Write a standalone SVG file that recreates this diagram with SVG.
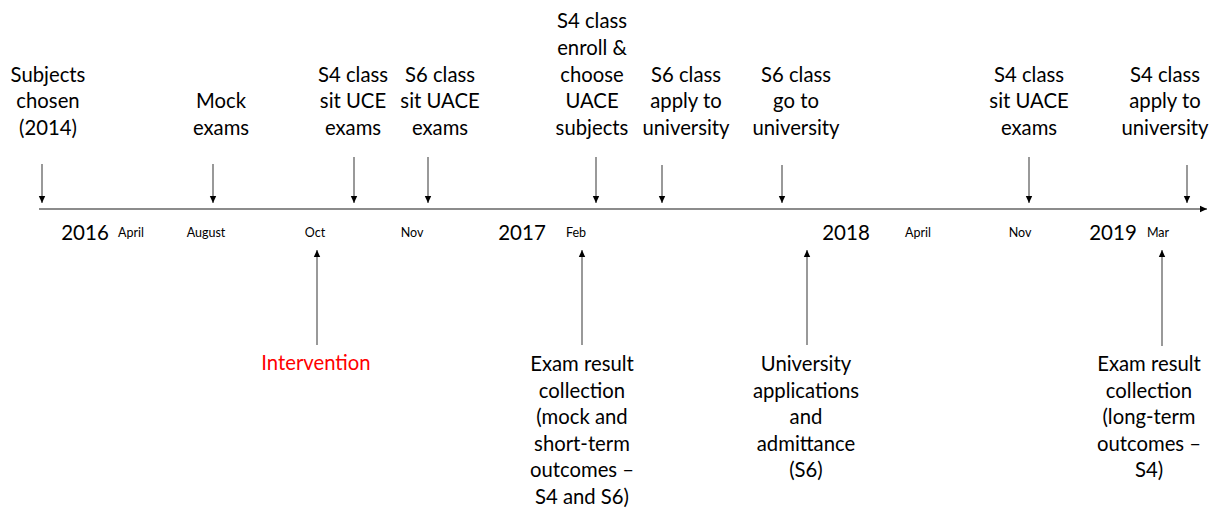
<svg xmlns="http://www.w3.org/2000/svg" width="1210" height="508" viewBox="0 0 1210 508">
<defs>
<marker id="ah" markerUnits="userSpaceOnUse" markerWidth="8" markerHeight="8" refX="7" refY="4" orient="auto">
<path d="M0,0.8 L7,4 L0,7.2 Z" fill="#000"/>
</marker>
<style>
text{font-family:Lato,"Open Sans","Liberation Sans",sans-serif;fill:#000;text-anchor:middle}
.lbl{font-size:20.3px}
.yr{font-size:20.5px}
.mo{font-size:12.5px}
.red{fill:#ff0000}
.ln{stroke:#555;stroke-width:1.2;fill:none;marker-end:url(#ah)}
.ax{stroke:#666;stroke-width:1.3;fill:none;marker-end:url(#ah)}
</style>
</defs>
<rect width="1210" height="508" fill="#fff"/>
<g id="connectors">
<line class="ax" x1="39" y1="209" x2="1207" y2="209"/>
<line class="ln" x1="42" y1="164" x2="42" y2="203"/>
<line class="ln" x1="213" y1="164" x2="213" y2="203"/>
<line class="ln" x1="354" y1="157" x2="354" y2="203"/>
<line class="ln" x1="428" y1="157" x2="428" y2="203"/>
<line class="ln" x1="596" y1="157" x2="596" y2="203"/>
<line class="ln" x1="662" y1="165" x2="662" y2="203"/>
<line class="ln" x1="782" y1="165" x2="782" y2="203"/>
<line class="ln" x1="1029" y1="157" x2="1029" y2="203"/>
<line class="ln" x1="1187" y1="165" x2="1187" y2="203"/>
<line class="ln" x1="317" y1="345" x2="317" y2="250"/>
<line class="ln" x1="582" y1="345" x2="582" y2="250"/>
<line class="ln" x1="807" y1="345" x2="807" y2="250"/>
<line class="ln" x1="1162" y1="346" x2="1162" y2="250"/>
</g>
<g id="axis-labels">
<text class="yr" x="85" y="240">2016</text>
<text class="mo" x="131" y="237">April</text>
<text class="mo" x="206" y="237">August</text>
<text class="mo" x="315" y="237">Oct</text>
<text class="mo" x="412" y="237">Nov</text>
<text class="yr" x="522" y="240">2017</text>
<text class="mo" x="576" y="237">Feb</text>
<text class="yr" x="846" y="240">2018</text>
<text class="mo" x="918" y="237">April</text>
<text class="mo" x="1020" y="237">Nov</text>
<text class="yr" x="1113" y="240">2019</text>
<text class="mo" x="1158" y="237">Mar</text>
</g>
<g id="n-subjects"><text class="lbl" x="48" y="81.5">Subjects<tspan x="48" y="108">chosen</tspan><tspan x="48" y="134.5">(2014)</tspan></text></g>
<g id="n-mock"><text class="lbl" x="221" y="108">Mock<tspan x="221" y="134.5">exams</tspan></text></g>
<g id="n-s4uce"><text class="lbl" x="353" y="81.5">S4 class<tspan x="353" y="108">sit UCE</tspan><tspan x="353" y="134.5">exams</tspan></text></g>
<g id="n-s6uace"><text class="lbl" x="440" y="81.5">S6 class<tspan x="440" y="108">sit UACE</tspan><tspan x="440" y="134.5">exams</tspan></text></g>
<g id="n-s4enroll"><text class="lbl" x="592" y="28">S4 class<tspan x="592" y="55">enroll &amp;</tspan><tspan x="592" y="81.5">choose</tspan><tspan x="592" y="108">UACE</tspan><tspan x="592" y="134.5">subjects</tspan></text></g>
<g id="n-s6apply"><text class="lbl" x="686" y="81.5">S6 class<tspan x="686" y="108">apply to</tspan><tspan x="686" y="134.5">university</tspan></text></g>
<g id="n-s6go"><text class="lbl" x="796" y="81.5">S6 class<tspan x="796" y="108">go to</tspan><tspan x="796" y="134.5">university</tspan></text></g>
<g id="n-s4uace"><text class="lbl" x="1029" y="81.5">S4 class<tspan x="1029" y="108">sit UACE</tspan><tspan x="1029" y="134.5">exams</tspan></text></g>
<g id="n-s4apply"><text class="lbl" x="1165" y="81.5">S4 class<tspan x="1165" y="108">apply to</tspan><tspan x="1165" y="134.5">university</tspan></text></g>
<g id="n-intervention"><text class="lbl red" x="316" y="370">Intervention</text></g>
<g id="n-exam1"><text class="lbl" x="582" y="371">Exam result<tspan x="582" y="397.5">collection</tspan><tspan x="582" y="424">(mock and</tspan><tspan x="582" y="450.5">short-term</tspan><tspan x="582" y="477">outcomes –</tspan><tspan x="582" y="503.5">S4 and S6)</tspan></text></g>
<g id="n-univ"><text class="lbl" x="806" y="371">University<tspan x="806" y="397.5">applications</tspan><tspan x="806" y="424">and</tspan><tspan x="806" y="450.5">admittance</tspan><tspan x="806" y="477">(S6)</tspan></text></g>
<g id="n-exam2"><text class="lbl" x="1149" y="371">Exam result<tspan x="1149" y="397.5">collection</tspan><tspan x="1149" y="424">(long-term</tspan><tspan x="1149" y="450.5">outcomes –</tspan><tspan x="1149" y="477">S4)</tspan></text></g>
</svg>
